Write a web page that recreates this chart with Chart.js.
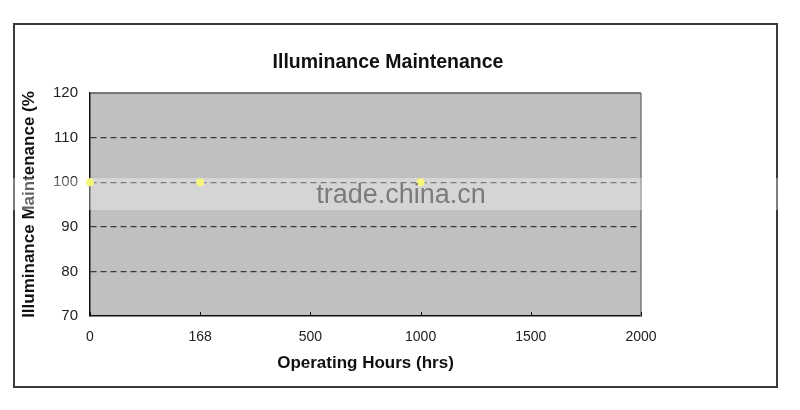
<!DOCTYPE html>
<html>
<head>
<meta charset="utf-8">
<script src="https://cdn.jsdelivr.net/npm/chart.js@4"></script>
<style>
  html, body { margin: 0; padding: 0; background: #fff; }
  #wrap { position: relative; width: 800px; height: 410px; }
  #frame { position: absolute; left: 13px; top: 23px; width: 761px; height: 361px; border: 2px solid #3a3a3a; }
  #c { position: absolute; left: 0; top: 0; }
  #band { position: absolute; left: 0; top: 178px; width: 800px; height: 32px;
          background: rgba(255,255,255,0.34);
          -webkit-mask-image: linear-gradient(to right, transparent 0, #000 10px, #000 790px, transparent 800px); }
  #wm { position: absolute; left: 0; top: 178px; width: 802px; height: 32px; line-height: 32px; text-align: center;
        font-family: "Liberation Sans", Arial, sans-serif; font-size: 27px; color: #7b7b7b; }
</style>
</head>
<body>
<div id="wrap">
  <div id="frame"></div>
  <canvas id="c" width="800" height="410"></canvas>
  <div id="band"></div>
  <div id="wm">trade.china.cn</div>
</div>
<script>
const hours = ['0', '168', '500', '1000', '1500', '2000'];
const maintenance = [100, 100, null, 100, null, null];
const yMin = 70;
const yMax = 120;
const yStep = 10;
const chartTitle = 'Illuminance Maintenance';
const xTitle = 'Operating Hours (hrs)';
const yTitle = 'Illuminance Maintenance (%';

const plotDecor = {
  id: 'plotDecor',
  beforeDraw(chart) {
    const { ctx, chartArea: a } = chart;
    ctx.save();
    ctx.fillStyle = '#c0c0c0';
    ctx.fillRect(a.left, a.top, a.right - a.left, a.bottom - a.top);
    ctx.restore();
  },
  afterDraw(chart) {
    const { ctx, chartArea: a } = chart;
    const xs = chart.scales.x;
    ctx.save();
    ctx.lineWidth = 1.5;
    ctx.strokeStyle = '#555';
    ctx.beginPath();
    ctx.moveTo(a.left, a.top); ctx.lineTo(a.right, a.top);
    ctx.stroke();
    ctx.strokeStyle = '#7a7a7a';
    ctx.beginPath();
    ctx.moveTo(a.right, a.top); ctx.lineTo(a.right, a.bottom);
    ctx.stroke();
    ctx.strokeStyle = '#111';
    ctx.lineWidth = 1;
    for (let i = 0; i < xs.ticks.length; i++) {
      const px = Math.round(xs.getPixelForTick(i)) + 0.5;
      ctx.beginPath();
      ctx.moveTo(px, a.bottom); ctx.lineTo(px, a.bottom - 4);
      ctx.stroke();
    }
    ctx.restore();
  }
};

new Chart(document.getElementById('c'), {
  type: 'line',
  data: {
    labels: hours,
    datasets: [{
      data: maintenance,
      showLine: false,
      pointRadius: 4,
      pointBackgroundColor: '#f2f23a',
      pointBorderColor: '#f2f23a',
      pointBorderWidth: 0,
      clip: false
    }]
  },
  options: {
    responsive: false,
    animation: false,
    devicePixelRatio: 1,
    layout: { padding: { left: 0, right: 24, top: 0, bottom: 0 } },
    plugins: {
      legend: { display: false },
      tooltip: { enabled: false },
      title: {
        display: true,
        text: chartTitle,
        color: '#111',
        font: { family: '"Liberation Sans", Arial, sans-serif', size: 19.5, weight: 'bold' },
        padding: { top: 51.3, bottom: 18.3 }
      }
    },
    scales: {
      x: {
        type: 'category',
        offset: false,
        grid: { display: false, drawTicks: false },
        border: { display: true, color: '#111', width: 1.5 },
        ticks: {
          color: '#222',
          padding: 13,
          maxRotation: 0,
          autoSkip: false,
          font: { family: '"Liberation Sans Narrow", "Liberation Sans", Arial, sans-serif', size: 14 }
        },
        title: {
          display: true,
          text: xTitle,
          color: '#111',
          font: { family: '"Liberation Sans", Arial, sans-serif', size: 17, weight: 'bold' },
          padding: { top: 4, bottom: 36.8 }
        },
        afterFit(s) { s.height = 94; }
      },
      y: {
        min: yMin,
        max: yMax,
        grid: {
          drawTicks: false,
          lineWidth: 1.2,
          color: (c) => (c.tick && (c.tick.value === yMin || c.tick.value === yMax)) ? 'rgba(0,0,0,0)' : '#3a3a3a'
        },
        border: { display: true, color: '#111', width: 1.5, dash: [6, 4] },
        ticks: {
          stepSize: yStep,
          color: '#222',
          padding: 12,
          font: { family: '"Liberation Sans Narrow", "Liberation Sans", Arial, sans-serif', size: 15 }
        },
        title: {
          display: true,
          text: yTitle,
          color: '#111',
          font: { family: '"Liberation Sans", Arial, sans-serif', size: 17, weight: 'bold' },
          padding: { top: 18.8, bottom: 0 }
        },
        afterFit(s) { s.width = 90; }
      },
      yRight: {
        position: 'right',
        display: true,
        min: yMin,
        max: yMax,
        grid: { display: false, drawTicks: false },
        border: { display: false },
        ticks: { display: false },
        afterFit(s) { s.width = 135; }
      }
    }
  },
  plugins: [plotDecor]
});
</script>
</body>
</html>
